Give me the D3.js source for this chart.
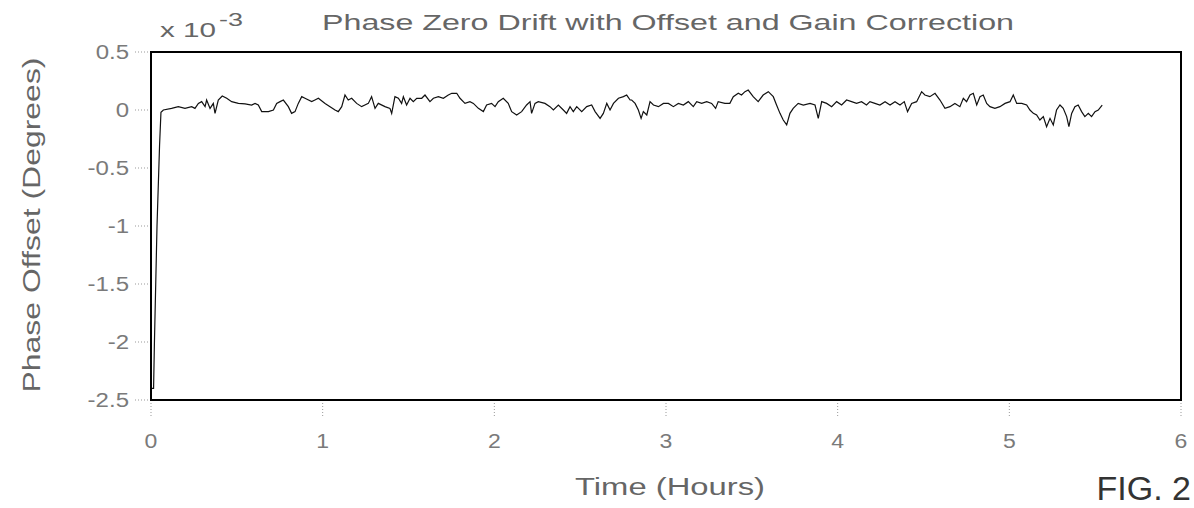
<!DOCTYPE html>
<html lang="en">
<head>
<meta charset="UTF-8">
<title>Phase Zero Drift</title>
<script src="https://d3js.org/d3.v7.min.js"></script>
<style>
    body { margin: 0; background: #fff; }
    text { font-family: "Liberation Sans", Arial, sans-serif; }
</style>
</head>
<body>
<svg width="1194" height="508"></svg>
<script>
    // readings of the trace (hours, phase offset in 1e-3 degrees)
    const hours = [0, 0.015, 0.02, 0.035, 0.05, 0.058, 0.072, 0.120, 0.159, 0.198, 0.237, 0.256, 0.276, 0.295, 0.315, 0.324, 0.344, 0.363, 0.373, 0.392,
        0.415, 0.441, 0.470, 0.509, 0.548, 0.586, 0.606, 0.625, 0.645, 0.684, 0.713, 0.732, 0.752, 0.771, 0.800, 0.819, 0.839, 0.858, 0.878, 0.897,
        0.936, 0.955, 0.975, 1.014, 1.043, 1.072, 1.091, 1.111, 1.130, 1.149, 1.169, 1.198, 1.227, 1.246, 1.266, 1.285, 1.305, 1.324, 1.363, 1.392,
        1.402, 1.421, 1.441, 1.460, 1.470, 1.489, 1.509, 1.528, 1.548, 1.577, 1.596, 1.625, 1.645, 1.674, 1.703, 1.732, 1.752, 1.781, 1.800, 1.829,
        1.858, 1.878, 1.907, 1.936, 1.955, 1.984, 2.004, 2.023, 2.052, 2.081, 2.101, 2.130, 2.159, 2.188, 2.208, 2.217, 2.237, 2.256, 2.295, 2.324,
        2.344, 2.373, 2.402, 2.421, 2.441, 2.460, 2.480, 2.509, 2.538, 2.567, 2.587, 2.616, 2.635, 2.655, 2.674, 2.694, 2.723, 2.752, 2.771, 2.791,
        2.800, 2.820, 2.839, 2.855, 2.868, 2.888, 2.907, 2.927, 2.956, 2.985, 3.014, 3.043, 3.072, 3.101, 3.130, 3.159, 3.179, 3.208, 3.237, 3.266,
        3.289, 3.304, 3.343, 3.372, 3.392, 3.421, 3.440, 3.460, 3.479, 3.508, 3.537, 3.566, 3.596, 3.625, 3.644, 3.664, 3.683, 3.703, 3.722, 3.741,
        3.770, 3.800, 3.839, 3.868, 3.887, 3.907, 3.936, 3.965, 3.994, 4.023, 4.052, 4.081, 4.110, 4.139, 4.168, 4.188, 4.217, 4.246, 4.276, 4.305,
        4.334, 4.363, 4.388, 4.407, 4.431, 4.460, 4.489, 4.508, 4.537, 4.567, 4.596, 4.625, 4.654, 4.683, 4.712, 4.732, 4.751, 4.771, 4.790, 4.810,
        4.829, 4.848, 4.868, 4.887, 4.916, 4.945, 4.975, 5.004, 5.023, 5.043, 5.072, 5.101, 5.120, 5.140, 5.159, 5.178, 5.198, 5.217, 5.237, 5.256,
        5.275, 5.295, 5.314, 5.334, 5.347, 5.363, 5.382, 5.401, 5.421, 5.440, 5.460, 5.479, 5.499, 5.518, 5.541];
    const offsets = [-2.40, -2.40, -2.00, -1.00, -0.30, -0.02, 0.000, 0.014, 0.029, 0.014, 0.029, 0.014, 0.057, 0.072, 0.029, 0.086, 0.014, 0.057, -0.029, 0.086,
        0.121, 0.101, 0.072, 0.057, 0.052, 0.043, 0.057, 0.043, -0.014, -0.014, 0.000, 0.057, 0.072, 0.086, 0.029, -0.029, -0.014, 0.057, 0.115, 0.101,
        0.072, 0.086, 0.101, 0.057, 0.029, 0.000, -0.014, 0.029, 0.129, 0.086, 0.101, 0.057, 0.029, 0.043, 0.057, 0.115, 0.014, 0.057, 0.029, 0.014,
        -0.029, 0.115, 0.101, 0.057, 0.115, 0.043, 0.101, 0.072, 0.101, 0.101, 0.129, 0.072, 0.101, 0.115, 0.101, 0.129, 0.144, 0.144, 0.101, 0.057,
        0.072, 0.057, 0.014, -0.014, 0.043, 0.057, 0.029, 0.072, 0.101, 0.057, -0.014, -0.043, -0.014, 0.043, 0.072, -0.029, 0.057, 0.072, 0.057, 0.029,
        0.000, 0.043, 0.000, -0.029, 0.029, -0.014, 0.029, -0.014, 0.029, 0.043, -0.014, -0.072, -0.029, 0.057, 0.000, 0.057, 0.101, 0.115, 0.129, 0.086,
        0.086, 0.057, 0.000, -0.072, -0.014, -0.043, 0.072, 0.043, 0.029, 0.057, 0.057, 0.029, 0.057, 0.043, 0.072, 0.029, 0.072, 0.057, 0.072, 0.057,
        0.014, 0.072, 0.057, 0.057, 0.115, 0.144, 0.129, 0.158, 0.172, 0.115, 0.072, 0.129, 0.158, 0.115, 0.043, -0.029, -0.086, -0.129, -0.029, 0.014,
        0.057, 0.043, 0.057, 0.043, -0.072, 0.072, 0.057, 0.029, 0.072, 0.043, 0.086, 0.072, 0.057, 0.072, 0.043, 0.072, 0.057, 0.043, 0.072, 0.043,
        0.072, 0.043, 0.072, -0.014, 0.057, 0.072, 0.158, 0.129, 0.115, 0.144, 0.086, 0.014, 0.029, 0.057, 0.029, 0.101, 0.072, 0.129, 0.144, 0.043,
        0.115, 0.129, 0.057, 0.029, 0.014, 0.029, 0.057, 0.072, 0.129, 0.057, 0.057, 0.043, 0.000, -0.029, -0.043, -0.086, -0.057, -0.144, -0.072, -0.129,
        0.000, 0.043, 0.014, -0.057, -0.144, -0.029, 0.029, 0.043, -0.014, -0.057, -0.029, -0.057, -0.014, 0.000, 0.043];

    const xTicks = [0, 1, 2, 3, 4, 5, 6];
    const yTicks = [0.5, 0, -0.5, -1, -1.5, -2, -2.5];

    const svg = d3.select('svg');
    const plotLeft = 151, plotRight = 1181, plotTop = 52, plotBottom = 400;

    const x = d3.scaleLinear().domain([0, 6]).range([plotLeft, plotRight]);
    const y = d3.scaleLinear().domain([-2.5, 0.5]).range([plotBottom, plotTop]);

    const labelColor = '#7a7a7a';

    // the scanned figure has wide lettering, stretch text a bit
    function widen(sel, factor) {
        sel.each(function () {
            const w = this.getComputedTextLength();
            d3.select(this).attr('textLength', w * factor).attr('lengthAdjust', 'spacingAndGlyphs');
        });
    }

    // tick marks, dotted, outside the frame
    svg.selectAll('.xtick').data(xTicks).enter().append('line')
        .attr('x1', d => x(d)).attr('x2', d => x(d))
        .attr('y1', plotBottom).attr('y2', plotBottom + 16)
        .attr('stroke', '#999').attr('stroke-width', 1).attr('stroke-dasharray', '1,2');
    svg.selectAll('.ytick').data(yTicks).enter().append('line')
        .attr('x1', plotLeft - 16).attr('x2', plotLeft)
        .attr('y1', d => y(d)).attr('y2', d => y(d))
        .attr('stroke', '#999').attr('stroke-width', 1).attr('stroke-dasharray', '1,2');

    // tick labels
    const xLabels = svg.selectAll('.xlab').data(xTicks).enter().append('text')
        .attr('x', d => x(d)).attr('y', 448)
        .attr('text-anchor', 'middle')
        .attr('font-size', 20).attr('fill', labelColor)
        .text(d => d);
    widen(xLabels, 1.15);
    const yLabels = svg.selectAll('.ylab').data(yTicks).enter().append('text')
        .attr('x', 129).attr('y', d => y(d) + 7)
        .attr('text-anchor', 'end')
        .attr('font-size', 20).attr('fill', labelColor)
        .text(d => d);
    widen(yLabels, 1.2);

    // trace
    const line = d3.line()
        .x(d => x(d[0]))
        .y(d => y(d[1]));
    svg.append('path')
        .datum(hours.map((h, i) => [h, offsets[i]]))
        .attr('d', line)
        .attr('fill', 'none')
        .attr('stroke', '#111')
        .attr('stroke-width', 1.2);

    // frame
    svg.append('rect')
        .attr('x', plotLeft).attr('y', plotTop)
        .attr('width', plotRight - plotLeft).attr('height', plotBottom - plotTop)
        .attr('fill', 'none').attr('stroke', '#000').attr('stroke-width', 2);

    // titles
    svg.append('text')
        .attr('x', 668).attr('y', 30)
        .attr('text-anchor', 'middle')
        .attr('font-size', 22).attr('fill', '#666')
        .attr('textLength', 692).attr('lengthAdjust', 'spacingAndGlyphs')
        .text('Phase Zero Drift with Offset and Gain Correction');

    const expo = svg.append('text')
        .attr('x', 160).attr('y', 37)
        .attr('font-size', 20).attr('fill', '#666');
    expo.append('tspan').attr('textLength', 56).attr('lengthAdjust', 'spacingAndGlyphs').text('x 10');
    expo.append('tspan').attr('dx', 3).attr('dy', -11).attr('font-size', 18)
        .attr('textLength', 24).attr('lengthAdjust', 'spacingAndGlyphs').text('-3');

    svg.append('text')
        .attr('x', 670).attr('y', 495)
        .attr('text-anchor', 'middle')
        .attr('font-size', 23).attr('fill', '#666')
        .attr('textLength', 190).attr('lengthAdjust', 'spacingAndGlyphs')
        .text('Time (Hours)');

    svg.append('text')
        .attr('transform', 'translate(40,225) rotate(-90)')
        .attr('text-anchor', 'middle')
        .attr('font-size', 23).attr('fill', '#666')
        .attr('textLength', 335).attr('lengthAdjust', 'spacingAndGlyphs')
        .text('Phase Offset (Degrees)');

    svg.append('text')
        .attr('x', 1191).attr('y', 500)
        .attr('text-anchor', 'end')
        .attr('font-size', 34).attr('fill', '#333')
        .text('FIG. 2');
</script>
</body>
</html>
